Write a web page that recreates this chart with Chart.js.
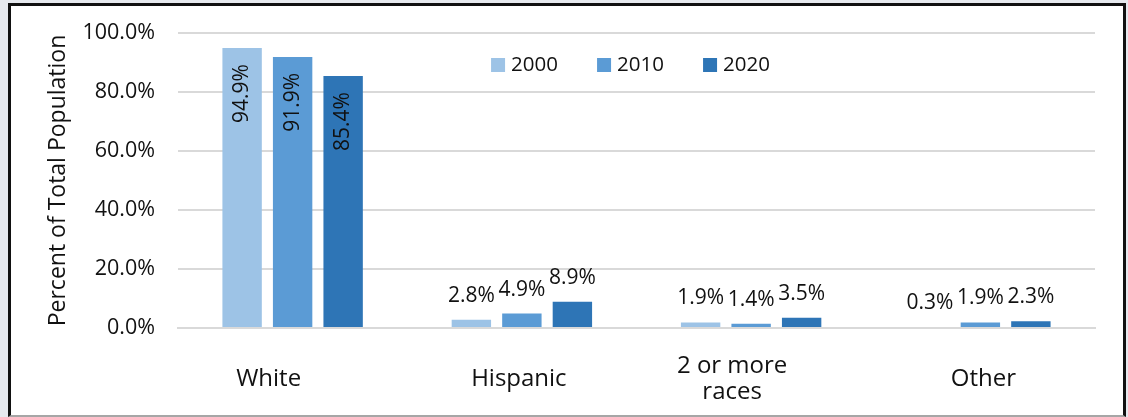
<!DOCTYPE html>
<html>
<head>
<meta charset="utf-8">
<script src="https://cdn.jsdelivr.net/npm/chart.js@4.4.1/dist/chart.umd.min.js"></script>
<style>
  html, body { margin: 0; padding: 0; }
  body { width: 1128px; height: 417px; background: #e6e9ee; position: relative; overflow: hidden; }
  #box {
    position: absolute; left: 8px; top: 3px;
    width: 1112px; height: 409px;
    background: #fff;
    border: 3px solid #111; border-bottom: 2px solid #a6a6a6;
  }
</style>
</head>
<body>
<div id="box"><canvas id="popChart"></canvas></div>
<script>
// chart data
const categories = ['White', 'Hispanic', ['2 or more', 'races'], 'Other'];
const years = ['2000', '2010', '2020'];
const share2000 = [94.9, 2.8, 1.9, 0.3];
const share2010 = [91.9, 4.9, 1.4, 1.9];
const share2020 = [85.4, 8.9, 3.5, 2.3];
const yTicks = [0, 20, 40, 60, 80, 100];
const colors = ['#9dc3e6', '#5b9bd5', '#2e75b6'];

const FONT = '"Open Sans", "Noto Sans", sans-serif';
// the source places some category labels a bit off the group centre
const labelShift = [-24, -3, -19, 3];

// value labels: rotated inside the tall bars, above the short ones
const valueLabels = {
  id: 'valueLabels',
  afterDatasetsDraw(chart) {
    const ctx = chart.ctx;
    ctx.save();
    ctx.fillStyle = '#111';
    ctx.font = '21px ' + FONT;
    chart.data.datasets.forEach((ds, di) => {
      const meta = chart.getDatasetMeta(di);
      meta.data.forEach((bar, i) => {
        const txt = ds.data[i].toFixed(1) + '%';
        if (ds.data[i] > 50) {
          ctx.save();
          ctx.translate(bar.x, bar.y + 16);
          ctx.rotate(-Math.PI / 2);
          ctx.textAlign = 'right';
          ctx.textBaseline = 'middle';
          ctx.fillText(txt, 0, 0);
          ctx.restore();
        } else {
          ctx.textAlign = 'center';
          ctx.textBaseline = 'alphabetic';
          ctx.fillText(txt, bar.x, bar.y - 18);
        }
      });
    });
    ctx.restore();
  }
};

// category labels under the axis (multi-line ones centred on the same middle)
const categoryLabels = {
  id: 'categoryLabels',
  afterDraw(chart) {
    const ctx = chart.ctx;
    const xScale = chart.scales.x;
    ctx.save();
    ctx.fillStyle = '#111';
    ctx.font = '24px ' + FONT;
    ctx.textAlign = 'center';
    ctx.textBaseline = 'alphabetic';
    const mid = xScale.top + 45;
    const lineH = 26;
    chart.data.labels.forEach((lab, i) => {
      const lines = Array.isArray(lab) ? lab : [lab];
      const x = xScale.getPixelForValue(i) + labelShift[i];
      let y = mid - (lines.length - 1) * lineH / 2 + 13;
      lines.forEach((ln) => {
        ctx.fillText(ln, x, y);
        y += lineH;
      });
    });
    ctx.restore();
  }
};

// legend drawn inside the plot, near the top
const innerLegend = {
  id: 'innerLegend',
  afterDraw(chart) {
    const ctx = chart.ctx;
    const area = chart.chartArea;
    ctx.save();
    ctx.font = '20.5px ' + FONT;
    ctx.textBaseline = 'middle';
    ctx.textAlign = 'left';
    const step = 106;
    const total = step * 2 + 20 + ctx.measureText('2020').width;
    let x = (area.left + area.right) / 2 - total / 2 - 6;
    const y = area.top + 32;
    chart.data.datasets.forEach((ds) => {
      ctx.fillStyle = ds.backgroundColor;
      ctx.fillRect(x, y - 7, 14, 14);
      ctx.fillStyle = '#111';
      ctx.fillText(ds.label, x + 20, y);
      x += step;
    });
    ctx.restore();
  }
};

const ctx = document.getElementById('popChart').getContext('2d');
const popChart = new Chart(ctx, {
  type: 'bar',
  data: {
    labels: categories,
    datasets: [
      { label: years[0], data: share2000, backgroundColor: colors[0] },
      { label: years[1], data: share2010, backgroundColor: colors[1] },
      { label: years[2], data: share2020, backgroundColor: colors[2] }
    ]
  },
  options: {
    responsive: true,
    maintainAspectRatio: false,
    animation: false,
    datasets: {
      bar: { categoryPercentage: 0.661, barPercentage: 0.78 }
    },
    layout: { padding: { left: 0, top: 27, right: 28, bottom: 0 } },
    plugins: {
      legend: { display: false },
      tooltip: { enabled: false }
    },
    scales: {
      x: {
        grid: { display: false },
        border: { color: '#d9d9d9', width: 2 },
        ticks: { display: false },
        afterFit(scale) { scale.height = 87; }
      },
      y: {
        min: 0,
        max: 100,
        afterBuildTicks(scale) { scale.ticks = yTicks.map(v => ({ value: v })); },
        grid: { color: '#d9d9d9', lineWidth: 2, drawTicks: false },
        border: { display: false },
        ticks: {
          color: '#111',
          font: { family: FONT, size: 21.5 },
          padding: 23,
          callback: (v) => v.toFixed(1) + '%'
        },
        title: {
          display: true,
          text: 'Percent of Total Population',
          color: '#111',
          font: { family: FONT, size: 23 },
          padding: { top: 34, bottom: 0 }
        },
        afterFit(scale) {
          scale.width = 167;
          // tick padding would otherwise push the plot top down
          scale.paddingTop = 0;
          scale.paddingBottom = 0;
        }
      }
    }
  },
  plugins: [valueLabels, categoryLabels, innerLegend]
});
</script>
</body>
</html>
